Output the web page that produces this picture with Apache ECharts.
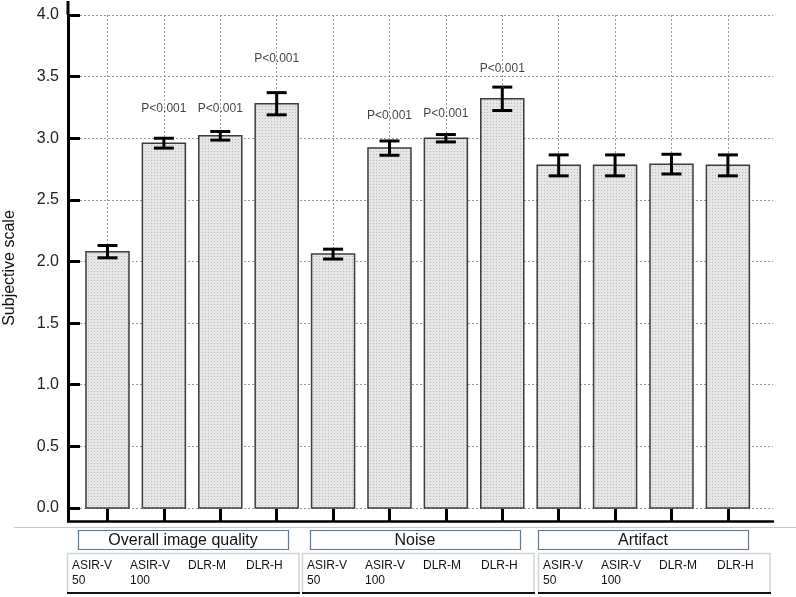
<!DOCTYPE html>
<html>
<head>
<meta charset="utf-8">
<script src="https://cdn.jsdelivr.net/npm/echarts@6/dist/echarts.min.js"></script>
<style>
html,body{margin:0;padding:0;background:#fff;}
#chart{width:796px;height:597px;}
</style>
</head>
<body>
<div id="chart"></div>
<script>
// ---- data ----
var groups = ['Overall image quality', 'Noise', 'Artifact'];
var subLabels = ['ASIR-V\n50', 'ASIR-V\n100', 'DLR-M', 'DLR-H'];
var barIndex = [0, 1, 2, 3, 4, 5, 6, 7, 8, 9, 10, 11];
var means = [2.08, 2.96, 3.02, 3.28, 2.06, 2.92, 3.00, 3.32, 2.78, 2.78, 2.79, 2.78];
var errors = [0.05, 0.04, 0.035, 0.09, 0.04, 0.058, 0.03, 0.095, 0.085, 0.085, 0.08, 0.085];
var pIndex = [1, 2, 3, 5, 6, 7];
var pLabelY = [3.237, 3.237, 3.643, 3.18, 3.197, 3.562];
var pText = 'P<0.001';
var yTicks = [0, 0.5, 1.0, 1.5, 2.0, 2.5, 3.0, 3.5, 4.0];

var FONT = '"Liberation Sans", Arial, Helvetica, sans-serif';

// dotted texture for bars
var pc = document.createElement('canvas');
pc.width = 3; pc.height = 3;
var pctx = pc.getContext('2d');
pctx.fillStyle = '#e6e6e6'; pctx.fillRect(0, 0, 3, 3);
pctx.fillStyle = '#b9b9b9'; pctx.fillRect(1, 1, 1, 1);

var chart = echarts.init(document.getElementById('chart'), null, {renderer: 'canvas'});

var BAR_W = 43;
var option = {
  animation: false,
  backgroundColor: '#ffffff',
  textStyle: {fontFamily: FONT},
  grid: {left: 68, right: 23, top: 15, bottom: 76, containLabel: false, outerBoundsMode: 'none'},
  xAxis: {
    type: 'value',
    min: -0.7, max: 11.8,
    axisLine: {show: true, onZero: false, lineStyle: {color: '#000', width: 2.5}},
    axisTick: {show: true, inside: true, length: 12, customValues: barIndex, lineStyle: {color: '#000', width: 3}},
    axisLabel: {show: false, customValues: barIndex},
    splitLine: {show: true, lineStyle: {color: '#9a9a9a', type: [2, 2], width: 1}}
  },
  yAxis: {
    type: 'value',
    min: -0.1055, max: 4.0,
    name: 'Subjective scale',
    nameLocation: 'middle',
    nameGap: 50,
    nameTextStyle: {fontSize: 16, color: '#111', fontFamily: FONT},
    axisLine: {show: true, onZero: false, lineStyle: {color: '#000', width: 3}},
    axisTick: {show: true, inside: true, length: 12, customValues: yTicks, lineStyle: {color: '#000', width: 3}},
    axisLabel: {show: true, customValues: yTicks, margin: 9, fontSize: 16, color: '#222', fontFamily: FONT,
      formatter: function (v) { return v.toFixed(1); }},
    splitLine: {show: true, lineStyle: {color: '#9a9a9a', type: [2, 2], width: 1}}
  },
  series: [
    {
      type: 'custom',
      data: barIndex.map(function (i) { return [i, means[i]]; }),
      renderItem: function (params, api) {
        var x = api.value(0), m = api.value(1);
        var top = api.coord([x, m]);
        var base = api.coord([x, 0]);
        return {
          type: 'rect',
          shape: {x: top[0] - BAR_W / 2, y: top[1], width: BAR_W, height: base[1] - top[1]},
          style: {fill: {image: pc, repeat: 'repeat'}, stroke: '#3c3c3c', lineWidth: 1.5}
        };
      },
      z: 2
    },
    {
      type: 'custom',
      data: barIndex.map(function (i) { return [i, means[i], errors[i]]; }),
      renderItem: function (params, api) {
        var x = api.value(0), m = api.value(1), e = api.value(2);
        var top = api.coord([x, m + e]);
        var bot = api.coord([x, m - e]);
        var hw = 10;
        var st = {stroke: '#000', lineWidth: 3};
        return {
          type: 'group',
          children: [
            {type: 'line', shape: {x1: top[0], y1: top[1], x2: bot[0], y2: bot[1]}, style: st},
            {type: 'line', shape: {x1: top[0] - hw, y1: top[1], x2: top[0] + hw, y2: top[1]}, style: st},
            {type: 'line', shape: {x1: bot[0] - hw, y1: bot[1], x2: bot[0] + hw, y2: bot[1]}, style: st}
          ]
        };
      },
      z: 5
    },
    {
      type: 'scatter',
      symbolSize: 0,
      data: pIndex.map(function (i, k) { return [i, pLabelY[k]]; }),
      label: {show: true, position: 'inside', formatter: function () { return pText; },
        fontSize: 12, color: '#111', fontFamily: FONT},
      z: 6
    }
  ]
};
chart.setOption(option);

// ---- table below the axis (layout boxes, texts from arrays) ----
var yTop = chart.convertToPixel({gridIndex: 0}, [0, 4.0]);
var axisX = chart.convertToPixel({gridIndex: 0}, [-0.7, 0])[0];
var tableLeft = [67, 302, 538];
var tableW = 232;
var groupLeft = [78, 310, 538];
var groupW = 210;
var colStep = 58;
var g = [];
// y axis extension above 4.0
g.push({type: 'line', shape: {x1: axisX, y1: 1, x2: axisX, y2: yTop[1]}, style: {stroke: '#000', lineWidth: 3}});
// thin separator
g.push({type: 'line', shape: {x1: 14, y1: 527.5, x2: 796, y2: 527.5}, style: {stroke: '#c8c8c8', lineWidth: 1}});
groups.forEach(function (name, gi) {
  g.push({type: 'rect', shape: {x: groupLeft[gi] + 0.5, y: 530.5, width: groupW, height: 19},
    style: {fill: '#fff', stroke: '#5a78a6', lineWidth: 1.2}});
  g.push({type: 'text', x: groupLeft[gi] + groupW / 2, y: 540.5,
    style: {text: name, font: '16px ' + FONT, fill: '#111', align: 'center', verticalAlign: 'middle'}});
  g.push({type: 'polyline', shape: {points: [[tableLeft[gi] + 0.5, 593], [tableLeft[gi] + 0.5, 553.5], [tableLeft[gi] + tableW, 553.5], [tableLeft[gi] + tableW, 593]]},
    style: {fill: null, stroke: '#d4d4d4', lineWidth: 1.5}});
  g.push({type: 'line', shape: {x1: tableLeft[gi], y1: 593, x2: tableLeft[gi] + tableW + 1, y2: 593}, style: {stroke: '#111', lineWidth: 2}});
  subLabels.forEach(function (s, si) {
    g.push({type: 'text', x: tableLeft[gi] + 5 + si * colStep, y: 558,
      style: {text: s, font: '12px ' + FONT, fill: '#111', align: 'left', verticalAlign: 'top', lineHeight: 15}});
  });
});
chart.setOption({graphic: {elements: g}});
</script>
</body>
</html>
